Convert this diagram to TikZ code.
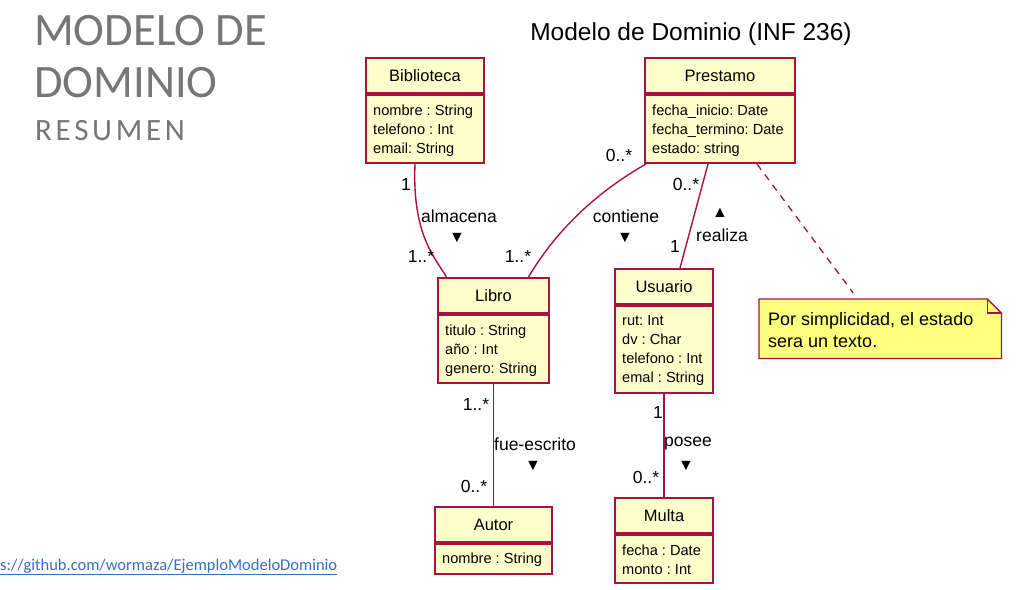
\documentclass[tikz,border=0pt]{standalone}
\usepackage{fontspec}
\setmainfont{Liberation Sans}
\newfontfamily\carlito{Carlito}
\newfontfamily\carlitowide[LetterSpace=12]{Carlito}
\usetikzlibrary{calc}

\definecolor{umlline}{RGB}{168,18,66}
\definecolor{umlfill}{RGB}{255,255,204}
\definecolor{notefill}{RGB}{255,255,128}
\definecolor{slidegray}{RGB}{118,118,118}
\definecolor{linkblue}{RGB}{50,110,200}

\tikzset{
  clshead/.style={draw=umlline, line width=2pt, fill=umlfill, anchor=north west,
    minimum height=35pt, inner sep=0pt, font=\fontsize{16.5}{19}\selectfont},
  clsbody/.style={draw=umlline, line width=2pt, fill=umlfill, anchor=north,
    inner sep=0pt},
  attrs/.style={anchor=west, inner sep=0pt, align=left,
    font=\frenchspacing\fontsize{14.6}{19}\selectfont},
  assoc/.style={draw=umlline, line width=1.4pt},
  anchorline/.style={draw=umlline, line width=1.3pt, dash pattern=on 7pt off 6pt},
  lbl/.style={inner sep=0pt, font=\fontsize{17.5}{20}\selectfont},
  tri/.style={inner sep=0pt, font=\fontsize{16}{18}\selectfont},
}

\begin{document}
\begin{tikzpicture}[x=1pt,y=-1pt]
\useasboundingbox (0,0) rectangle (1016,589);

% slide heading
\node[anchor=base west, inner sep=0pt, text=slidegray, font=\carlito\fontsize{46.5}{52}\selectfont] (h1) at (34,45) {MODELO DE};
\node[anchor=base west, inner sep=0pt, text=slidegray, font=\carlito\fontsize{46.5}{52}\selectfont] (h2) at (34,97) {DOMINIO};
\node[anchor=base west, inner sep=0pt, text=slidegray, font=\carlitowide\fontsize{31}{36}\selectfont] (h3) at (35,140) {RESUMEN};

% diagram title
\node[inner sep=0pt, font=\fontsize{24.5}{28}\selectfont] (title) at (691,34) {Modelo de Dominio (INF 236)};

% classes: name compartment, attribute compartment, attribute text
\node[clshead, minimum width=118pt] (bib) at (365,57) {Biblioteca};
\node[clsbody, minimum width=118pt, minimum height=68pt] (bibA) at (bib.south) {};
\node[attrs] (bibT) at ($(bibA.west)+(8,2)$) {nombre : String\\telefono : Int\\email: String};

\node[clshead, minimum width=150pt] (pres) at (644,57) {Prestamo};
\node[clsbody, minimum width=150pt, minimum height=68pt] (presA) at (pres.south) {};
\node[attrs] (presT) at ($(presA.west)+(8,2)$) {fecha\_inicio: Date\\fecha\_termino: Date\\estado: string};

\node[clshead, minimum width=111pt] (libro) at (437,277) {Libro};
\node[clsbody, minimum width=111pt, minimum height=68pt] (libroA) at (libro.south) {};
\node[attrs] (libroT) at ($(libroA.west)+(8,2)$) {titulo : String\\año : Int\\genero: String};

\node[clshead, minimum width=98pt] (usu) at (614,268) {Usuario};
\node[clsbody, minimum width=98pt, minimum height=87pt] (usuA) at (usu.south) {};
\node[attrs] (usuT) at ($(usuA.west)+(8,1)$) {rut: Int\\dv : Char\\telefono : Int\\emal : String};

\node[clshead, minimum width=117pt] (autor) at (434,506) {Autor};
\node[clsbody, minimum width=117pt, minimum height=30pt] (autorA) at (autor.south) {};
\node[attrs] (autorT) at ($(autorA.west)+(8,1)$) {nombre : String};

\node[clshead, minimum width=98pt] (multa) at (614,497) {Multa};
\node[clsbody, minimum width=98pt, minimum height=48pt] (multaA) at (multa.south) {};
\node[attrs] (multaT) at ($(multaA.west)+(8,1)$) {fecha : Date\\monto : Int};

% note with folded corner
\node[anchor=north west, minimum width=242pt, minimum height=59pt, inner sep=0pt] (note) at (759,299) {};
\filldraw[fill=notefill, draw=umlline, line width=1.3pt]
  (note.north west) -- ($(note.north east)+(-14,0)$) -- ($(note.north east)+(0,14)$)
  -- (note.south east) -- (note.south west) -- cycle;
\draw[umlline, line width=1.3pt]
  ($(note.north east)+(-14,0)$) -- ($(note.north east)+(-14,14)$) -- ($(note.north east)+(0,14)$);
\node[anchor=west, inner sep=0pt, align=left, font=\fontsize{18}{22}\selectfont] (notetext)
  at ($(note.west)+(9,1)$) {Por simplicidad, el estado\\sera un texto.};

% associations
\draw[assoc] ($(bibA.south)+(-10,0)$) .. controls +(-3,70) and +(-12,-20) .. ($(libro.north)+(-47,0)$);
\draw[assoc] ($(presA.south west)+(2,0)$) .. controls +(-70,40) and +(15,-25) .. ($(libro.north)+(35,0)$);
\draw[assoc] ($(presA.south)+(-12,0)$) -- ($(usu.north)+(16,0)$);
\draw[anchorline] ($(presA.south)+(37,0)$) -- ($(note.north)+(-27,-6)$);
\draw[assoc] (libroA.south) -- (autor.north);
\draw[assoc] (usuA.south) -- (multa.north);

% association names, reading direction and multiplicities
\node[lbl] (m1) at (406,184) {1};
\node[lbl] (n1) at (459,216) {almacena};
\node[tri] (d1) at (457,238) {▼};
\node[lbl] (m2) at (421,256) {1..*};

\node[lbl] (m3) at (518,256) {1..*};
\node[lbl] (m4) at (619,155) {0..*};
\node[lbl] (n2) at (626,216) {contiene};
\node[tri] (d2) at (625,238) {▼};

\node[lbl] (m5) at (686,184) {0..*};
\node[tri] (d3) at (720,213) {▲};
\node[lbl] (n3) at (722,235) {realiza};
\node[lbl] (m6) at (675,246) {1};

\node[lbl] (m7) at (476,404) {1..*};
\node[lbl] (n4) at (535,444) {fue-escrito};
\node[tri] (d4) at (533,466) {▼};
\node[lbl] (m8) at (474,486) {0..*};

\node[lbl] (m9) at (658,412) {1};
\node[lbl] (n5) at (688,444) {posee};
\node[tri] (d5) at (686,466) {▼};
\node[lbl] (m10) at (646,477) {0..*};

% source link
\node[anchor=base west, inner sep=0pt, text=linkblue, font=\carlito\fontsize{16.5}{19}\selectfont] (link)
  at (0,570) {\underline{s://github.com/wormaza/EjemploModeloDominio}};
\end{tikzpicture}
\end{document}
